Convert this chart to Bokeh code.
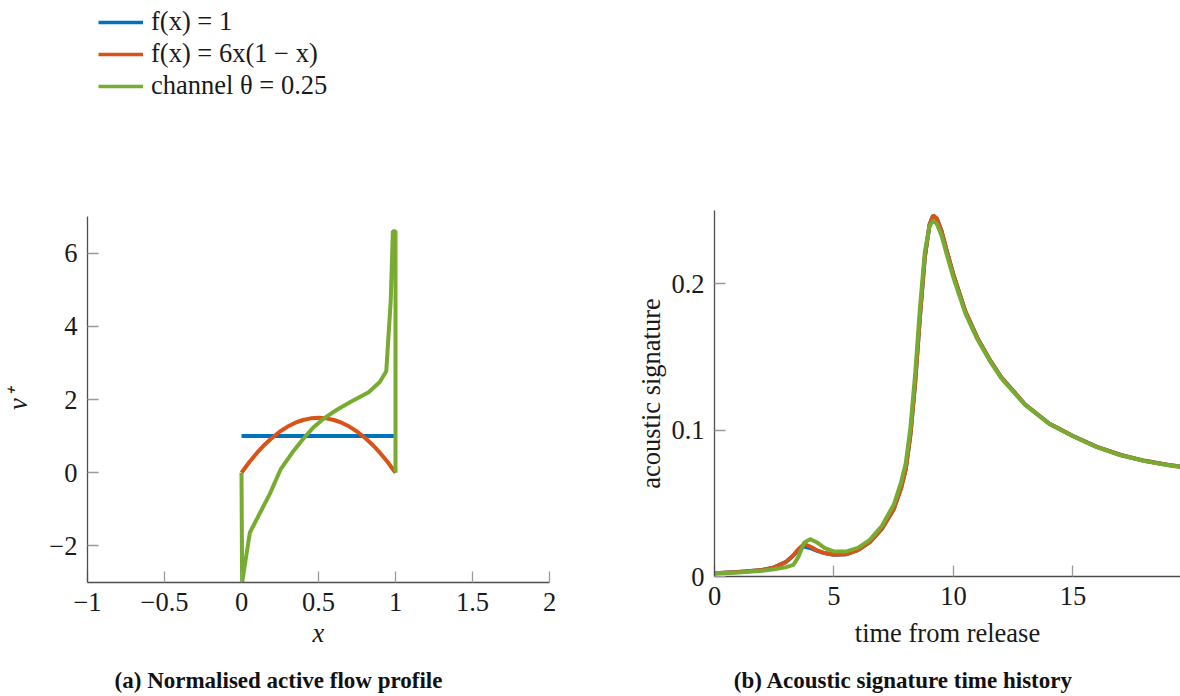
from bokeh.plotting import figure
from bokeh.layouts import column, row
from bokeh.models import Range1d, FixedTicker, Legend, LegendItem, Label, CustomJSTickFormatter
from bokeh.embed import file_html
from bokeh.resources import INLINE

FONT = "Liberation Serif"
BLUE = "#0072BD"
RED = "#D95319"
GREEN = "#77AC30"
FS = "26.5px"

# ---------------- data: (a) flow profiles ----------------
x_uniform = [0.0, 1.0]
v_uniform = [1.0, 1.0]

x_parab = [0.0, 0.05, 0.1, 0.15, 0.2, 0.25, 0.3, 0.35, 0.4, 0.45, 0.5,
           0.55, 0.6, 0.65, 0.7, 0.75, 0.8, 0.85, 0.9, 0.95, 1.0]
v_parab = [0.0, 0.285, 0.54, 0.765, 0.96, 1.125, 1.26, 1.365, 1.44, 1.485, 1.5,
           1.485, 1.44, 1.365, 1.26, 1.125, 0.96, 0.765, 0.54, 0.285, 0.0]

x_channel = [0.0, 0.004, 0.054, 0.12, 0.184, 0.255, 0.33, 0.40, 0.47, 0.54,
             0.62, 0.707, 0.826, 0.898, 0.94, 0.969, 0.983, 1.0, 1.0]
v_channel = [0.0, -3.0, -1.64, -1.1, -0.58, 0.10, 0.55, 0.92, 1.25, 1.50,
             1.72, 1.93, 2.20, 2.48, 2.77, 4.70, 6.6, 6.6, 0.0]

# ---------------- data: (b) acoustic signature ----------------
t = [0, 1, 2, 2.5, 3, 3.3, 3.5, 3.75, 4.0, 4.3,
     4.6, 5.0, 5.5, 6.0, 6.5, 7.0, 7.5, 7.8, 8.0, 8.2,
     8.4, 8.6, 8.8, 9.0, 9.15, 9.3, 9.5, 9.7, 10.0, 10.5,
     11.0, 11.5, 12.0, 13.0, 14.0, 15.0, 16.0, 17.0, 18.0, 19.0, 19.6]
sig_uniform = [0.0023, 0.0030, 0.0045, 0.0062, 0.0100, 0.0143, 0.0180, 0.0205, 0.0195, 0.0175,
               0.0160, 0.0148, 0.0152, 0.0180, 0.0235, 0.0325, 0.0460, 0.0600, 0.0730, 0.0970,
               0.1330, 0.1780, 0.2180, 0.2405, 0.2465, 0.2445, 0.2360, 0.2235, 0.2060, 0.1810,
               0.1630, 0.1485, 0.1360, 0.1175, 0.1045, 0.0960, 0.0885, 0.0830, 0.0790, 0.0762, 0.0748]
sig_parab = [0.0023, 0.0030, 0.0045, 0.0062, 0.0100, 0.0145, 0.0185, 0.0222, 0.0205, 0.0178,
             0.0160, 0.0148, 0.0152, 0.0180, 0.0235, 0.0325, 0.0460, 0.0600, 0.0730, 0.0970,
             0.1330, 0.1780, 0.2180, 0.2405, 0.2465, 0.2445, 0.2360, 0.2235, 0.2060, 0.1810,
             0.1630, 0.1485, 0.1360, 0.1175, 0.1045, 0.0960, 0.0885, 0.0830, 0.0790, 0.0762, 0.0748]
sig_channel = [0.0023, 0.0028, 0.0040, 0.0050, 0.0064, 0.0080, 0.0130, 0.0230, 0.0255, 0.0232,
               0.0195, 0.0170, 0.0170, 0.0195, 0.0250, 0.0345, 0.0490, 0.0640, 0.0770, 0.1020,
               0.1390, 0.1840, 0.2215, 0.2395, 0.2430, 0.2410, 0.2330, 0.2210, 0.2040, 0.1795,
               0.1620, 0.1478, 0.1355, 0.1172, 0.1043, 0.0958, 0.0883, 0.0828, 0.0788, 0.0760, 0.0746]

labels = ["f(x) = 1", "f(x) = 6x(1 − x)", "channel θ = 0.25"]
colors = [BLUE, RED, GREEN]

ticks_a_x = [-1, -0.5, 0, 0.5, 1, 1.5, 2]
ticks_a_y = [-2, 0, 2, 4, 6]
ticks_b_x = [0, 5, 10, 15]
ticks_b_y = [0, 0.1, 0.2]

captions = ["(a) Normalised active flow profile", "(b) Acoustic signature time history"]

fmt_code = 'return (tick < 0 ? "\\u2212" : "") + String(Math.abs(tick));'


def style(p, xticks, yticks):
    p.outline_line_color = None
    p.xgrid.visible = False
    p.ygrid.visible = False
    p.background_fill_color = None
    p.border_fill_color = None
    p.xaxis.ticker = FixedTicker(ticks=xticks, minor_ticks=[])
    p.yaxis.ticker = FixedTicker(ticks=yticks, minor_ticks=[])
    for ax in p.axis:
        ax.formatter = CustomJSTickFormatter(code=fmt_code)
        ax.axis_line_color = "#4d4d4d"
        ax.axis_line_width = 1.3
        ax.major_tick_line_color = "#9a9a9a"
        ax.major_tick_line_width = 1.3
        ax.major_tick_in = 11
        ax.major_tick_out = 0
        ax.minor_tick_line_color = None
        ax.major_label_text_font = FONT
        ax.major_label_text_font_size = FS
        ax.major_label_text_color = "#1a1a1a"
        ax.axis_label_text_font = FONT
        ax.axis_label_text_font_size = FS
        ax.axis_label_text_color = "#1a1a1a"
        ax.axis_label_text_font_style = "normal"
    p.xaxis.major_label_standoff = 10
    p.yaxis.major_label_standoff = 10


# ---------------- top legend strip ----------------
top = figure(width=1180, height=190, x_range=Range1d(0, 1), y_range=Range1d(0, 1),
             output_backend="svg", toolbar_location=None,
             min_border_left=0, min_border_right=0, min_border_top=0, min_border_bottom=0)
top.axis.visible = False
top.grid.visible = False
top.outline_line_color = None
items = []
for lab, col in zip(labels, colors):
    r = top.line(x=[0], y=[0], line_color=col, line_width=3.5)
    items.append(LegendItem(label=lab, renderers=[r]))
leg = Legend(items=items, location=(98, 89), padding=0, margin=0,
             spacing=1, glyph_width=45, glyph_height=26, label_height=26,
             label_standoff=8, label_text_font=FONT, label_text_font_size=FS,
             label_text_color="#1a1a1a", border_line_color=None,
             background_fill_alpha=0)
top.add_layout(leg, "center")

# ---------------- (a) ----------------
p1 = figure(width=600, height=470, x_range=Range1d(-1, 2), y_range=Range1d(-3, 7),
            output_backend="svg", toolbar_location=None,
            min_border_left=87, min_border_right=51, min_border_top=26, min_border_bottom=78)
style(p1, ticks_a_x, ticks_a_y)
p1.xaxis.axis_label = "x"
p1.xaxis.axis_label_text_font_style = "italic"
p1.xaxis.axis_label_standoff = 4
p1.yaxis.axis_label = "v⁺"
p1.yaxis.axis_label_text_font_style = "italic"
p1.yaxis.axis_label_standoff = 13
p1.line(x_uniform, v_uniform, line_color=BLUE, line_width=4)
p1.line(x_parab, v_parab, line_color=RED, line_width=4)
p1.line(x_channel, v_channel, line_color=GREEN, line_width=4)

# ---------------- (b) ----------------
p2 = figure(width=580, height=470, x_range=Range1d(0, 19.5), y_range=Range1d(0, 0.25),
            output_backend="svg", toolbar_location=None,
            min_border_left=114, min_border_right=0, min_border_top=20, min_border_bottom=84)
style(p2, ticks_b_x, ticks_b_y)
p2.xaxis.axis_label = "time from release"
p2.xaxis.axis_label_standoff = 10
p2.yaxis.axis_label = "acoustic signature"
p2.yaxis.axis_label_standoff = 2
p2.line(t, sig_uniform, line_color=BLUE, line_width=4)
p2.line(t, sig_parab, line_color=RED, line_width=4)
p2.line(t, sig_channel, line_color=GREEN, line_width=4)

# ---------------- captions ----------------
bot = figure(width=1180, height=36, x_range=Range1d(0, 1180), y_range=Range1d(0, 36),
             output_backend="svg", toolbar_location=None,
             min_border_left=0, min_border_right=0, min_border_top=0, min_border_bottom=0)
bot.axis.visible = False
bot.grid.visible = False
bot.outline_line_color = None
for cx, cap in zip([278, 903], captions):
    bot.add_layout(Label(x=cx, y=16, text=cap, text_align="center", text_baseline="alphabetic",
                         text_font=FONT, text_font_size="23px", text_font_style="bold",
                         text_color="#111111"))

layout = column(top, row(p1, column(p2)), bot)
open("out.html", "w").write(file_html(layout, INLINE))
